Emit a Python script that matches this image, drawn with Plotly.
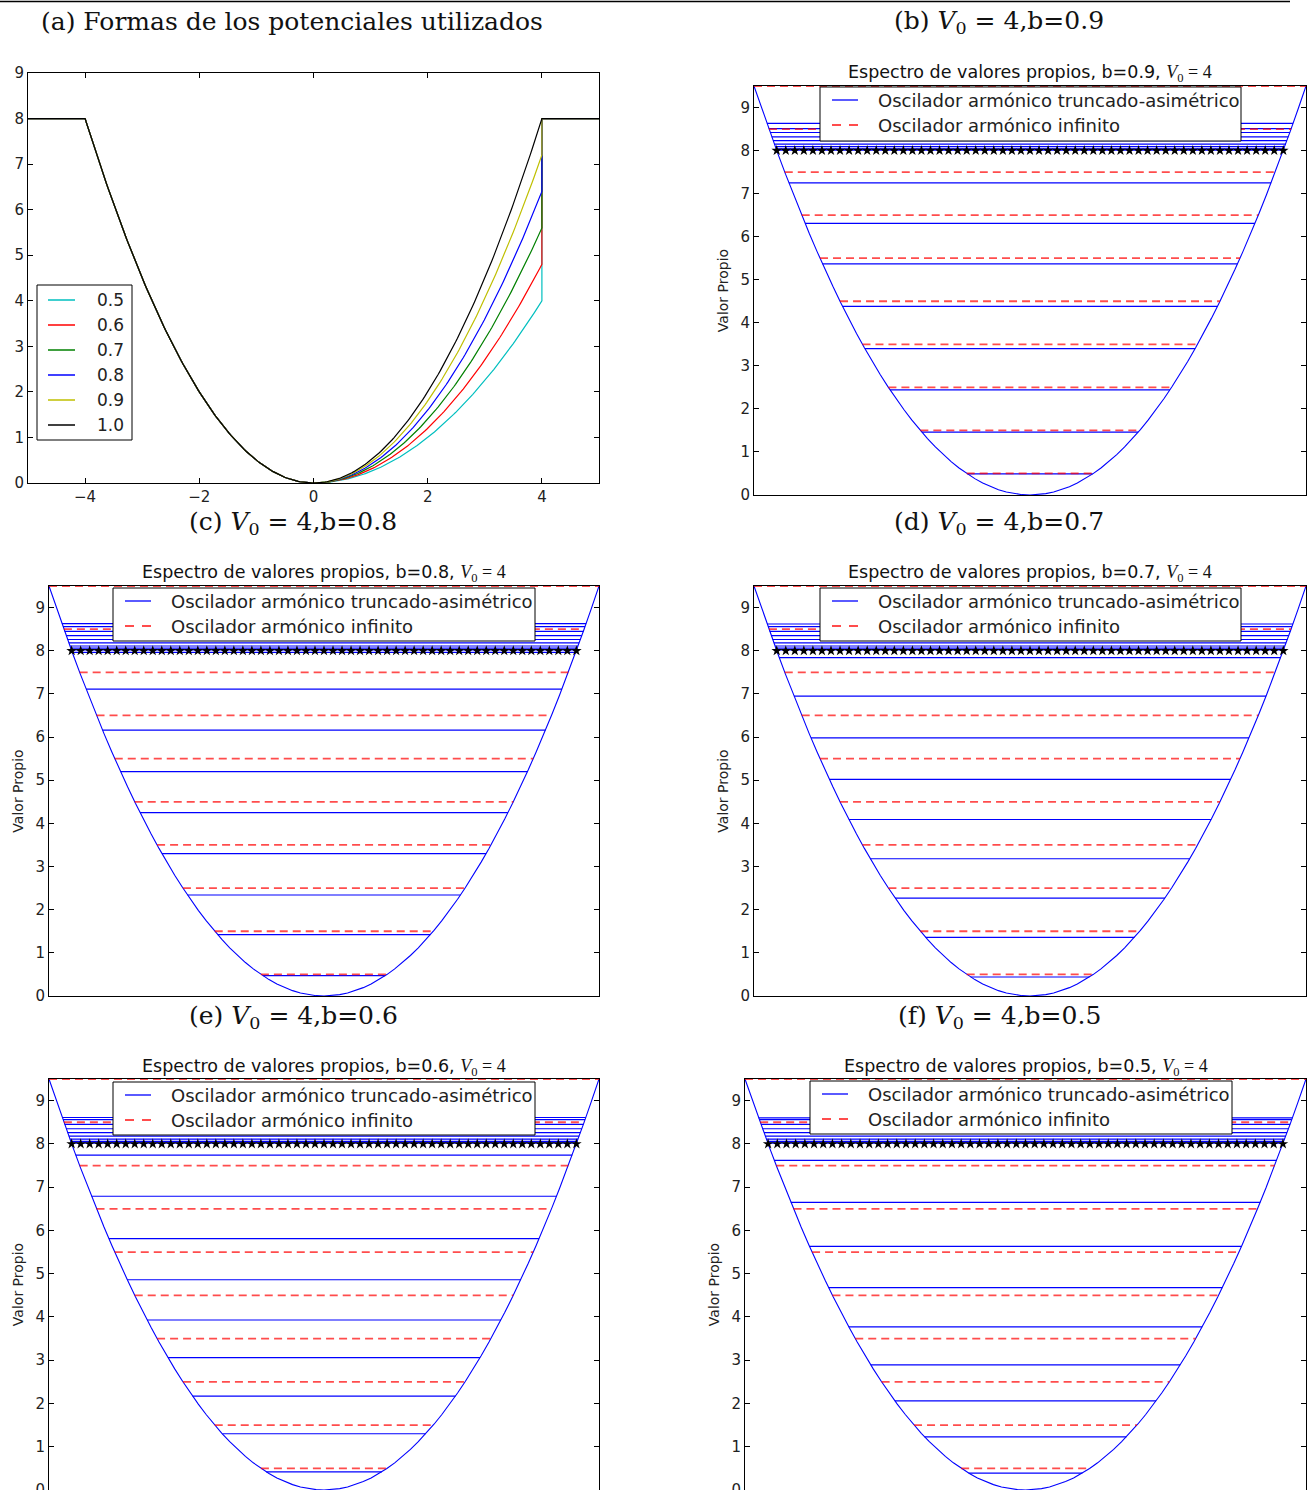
import numpy as np
import plotly.graph_objects as go

W, H = 1310, 1490

# ---------------- data ----------------
b_values = [0.5, 0.6, 0.7, 0.8, 0.9, 1.0]
b_labels = ["0.5", "0.6", "0.7", "0.8", "0.9", "1.0"]
b_colors = ["#00bfbf", "#ff0000", "#008000", "#0000ff", "#bfbf00", "#000000"]
V_top = 8.0          # height of the flat walls
x_wall = 4.0         # position of the walls

# infinite harmonic oscillator levels (n + 1/2)
infinite_levels = [0.5, 1.5, 2.5, 3.5, 4.5, 5.5, 6.5, 7.5, 8.5, 9.5]

# truncated-asymmetric oscillator eigenvalues
E_b09 = [0.49, 1.46, 2.44, 3.40, 4.38, 5.37, 6.31, 7.25,
         8.01, 8.04, 8.09, 8.15, 8.23, 8.32, 8.42, 8.51, 8.63]
E_b08 = [0.47, 1.42, 2.34, 3.30, 4.25, 5.20, 6.16, 7.11, 7.96,
         8.02, 8.06, 8.11, 8.18, 8.26, 8.35, 8.45, 8.56, 8.63]
E_b07 = [0.44, 1.36, 2.27, 3.18, 4.09, 5.02, 5.98, 6.95, 7.84,
         8.02, 8.06, 8.11, 8.18, 8.26, 8.35, 8.45, 8.56, 8.62]
E_b06 = [0.42, 1.30, 2.17, 3.06, 3.93, 4.86, 5.81, 6.79, 7.74,
         8.02, 8.06, 8.11, 8.18, 8.26, 8.35, 8.45, 8.56, 8.61]
E_b05 = [0.39, 1.23, 2.06, 2.89, 3.77, 4.68, 5.63, 6.65, 7.62,
         8.02, 8.06, 8.11, 8.18, 8.26, 8.35, 8.45, 8.56, 8.60]

spectra = [
    ("b", "0.9", E_b09),
    ("c", "0.8", E_b08),
    ("d", "0.7", E_b07),
    ("e", "0.6", E_b06),
    ("f", "0.5", E_b05),
]

legend_names = ["Oscilador armónico truncado-asimétrico", "Oscilador armónico infinito"]
y_ticks = [0, 1, 2, 3, 4, 5, 6, 7, 8, 9]
a_xticks = [-4, -2, 0, 2, 4]

# ---------------- layout geometry (pixels) ----------------
# (x0, x1, y0_top, y1_bottom)
boxes = {
    "a": (28, 599, 73, 483),
    "b": (754, 1306, 86, 495),
    "c": (49, 599, 586, 996),
    "d": (754, 1306, 586, 996),
    "e": (49, 599, 1079, 1490),
    "f": (745, 1306, 1079, 1490),
}
legend_box = {
    "b": (820, 87, 1241, 141), "c": (113, 588, 535, 641),
    "d": (820, 588, 1241, 641), "e": (113, 1082, 535, 1135),
    "f": (810, 1081, 1232, 1134),
}
legend_a_box = (37, 285, 132, 440)
caption_pos = {
    "a": (292, 22), "b": (999, 22), "c": (293, 523),
    "d": (999, 523), "e": (293, 1017), "f": (999, 1017),
}

SANS = "DejaVu Sans"
SERIF = "DejaVu Serif"

fig = go.Figure()
layout = {}
annotations = []
shapes = []


def px(x):
    return x / W


def py(y):
    return 1 - y / H


def dom(box):
    x0, x1, y0, y1 = box
    return [px(x0), px(x1)], [max(0.0, py(y1)), py(y0)]


def legend_line(x0, x1, y, color, width, dash="solid"):
    return dict(type="line", xref="paper", yref="paper", layer="above",
                x0=px(x0), x1=px(x1), y0=py(y), y1=py(y),
                line=dict(color=color, width=width, dash=dash))


def legend_rect(x0, y0, x1, y1):
    return dict(type="rect", xref="paper", yref="paper", layer="above",
                x0=px(x0), x1=px(x1), y0=py(y1), y1=py(y0),
                fillcolor="white", line=dict(color="black", width=1))


def legend_text(x, y, txt, size):
    return dict(x=px(x), y=py(y), xref="paper", yref="paper", xanchor="left",
                yanchor="middle", showarrow=False, text=txt,
                font=dict(family=SANS, size=size, color="#222"))


axis_common = dict(showline=True, linecolor="black", linewidth=1,
                   showgrid=False, zeroline=False, mirror="allticks",
                   ticks="inside", ticklen=5, tickcolor="black",
                   ticklabeloverflow="allow",
                   tickfont=dict(family=SANS, size=15, color="#222"))

# ---------------- panel (a) ----------------
dx, dy = dom(boxes["a"])
layout["xaxis"] = dict(axis_common, domain=dx, range=[-5, 5], tickvals=a_xticks,
                       anchor="y")
layout["yaxis"] = dict(axis_common, domain=dy, range=[0, 9], tickvals=y_ticks,
                       anchor="x")

for b, lab, col in zip(b_values, b_labels, b_colors):
    xl = np.linspace(-x_wall, 0, 120)
    xr = np.linspace(0, x_wall, 120)
    xs = np.concatenate([[-5.0], xl, xr, [x_wall, 5.0]])
    ys = np.concatenate([[V_top], 0.5 * xl ** 2, 0.5 * b * xr ** 2, [V_top, V_top]])
    fig.add_trace(go.Scatter(x=xs, y=ys, mode="lines", name=lab,
                             line=dict(color=col, width=1.2), showlegend=False,
                             xaxis="x", yaxis="y"))

# legend of panel (a)
ax0, ay0, ax1, ay1 = legend_a_box
shapes.append(legend_rect(ax0, ay0, ax1, ay1))
for j, (lab, col) in enumerate(zip(b_labels, b_colors)):
    yrow = ay0 + 15 + 25 * j
    shapes.append(legend_line(ax0 + 11, ax0 + 38, yrow, col, 1.5))
    annotations.append(legend_text(ax0 + 58, yrow, lab, 17))

# ---------------- spectrum panels ----------------
x_edge = float(np.sqrt(2 * 9.5))
for i, (key, bstr, levels) in enumerate(spectra):
    n = i + 2
    xa, ya = f"x{n}", f"y{n}"
    dx, dy = dom(boxes[key])
    layout[f"xaxis{n}"] = dict(showline=True, linecolor="black", linewidth=1,
                              mirror=True, showgrid=False, zeroline=False,
                              ticks="", showticklabels=False,
                              domain=dx, range=[-x_edge, x_edge], anchor=ya)
    layout[f"yaxis{n}"] = dict(axis_common, domain=dy, range=[0, 9.5],
                              tickvals=y_ticks, anchor=xa,
                              title=dict(text="Valor Propio", standoff=8,
                                         font=dict(family=SANS, size=14, color="#222")))
    # potential parabola
    xp = np.linspace(-x_edge, x_edge, 71)
    fig.add_trace(go.Scatter(x=xp, y=0.5 * xp ** 2, mode="lines",
                             line=dict(color="blue", width=1.1),
                             showlegend=False, xaxis=xa, yaxis=ya, hoverinfo="skip"))
    # truncated-asymmetric levels
    bx, by = [], []
    for E in levels:
        w = np.sqrt(2 * E)
        bx += [-w, w, None]
        by += [E, E, None]
    fig.add_trace(go.Scatter(x=bx, y=by, mode="lines", name=legend_names[0],
                             line=dict(color="blue", width=1.2), showlegend=False,
                             xaxis=xa, yaxis=ya))
    # infinite oscillator levels
    rx, ry = [], []
    for E in infinite_levels:
        w = np.sqrt(2 * E)
        rx += [-w, w, None]
        ry += [E, E, None]
    fig.add_trace(go.Scatter(x=rx, y=ry, mode="lines", name=legend_names[1],
                             line=dict(color="rgba(255,0,0,0.7)", width=1.8,
                                       dash="8px,5px"), showlegend=False,
                             xaxis=xa, yaxis=ya))
    # wall level markers
    xs = np.linspace(-x_wall, x_wall, 57)
    fig.add_trace(go.Scatter(x=xs, y=[V_top] * len(xs), mode="markers",
                             marker=dict(symbol="star", size=8, color="black"),
                             showlegend=False, xaxis=xa, yaxis=ya, hoverinfo="skip"))
    # legend box
    lx0, ly0, lx1, ly1 = legend_box[key]
    shapes.append(legend_rect(lx0, ly0, lx1, ly1))
    shapes.append(legend_line(lx0 + 12, lx0 + 38, ly0 + 13, "blue", 1.3))
    shapes.append(legend_line(lx0 + 12, lx0 + 38, ly0 + 38, "rgba(255,0,0,0.7)",
                              1.8, "9px,8px"))
    for j, nm in enumerate(legend_names):
        annotations.append(legend_text(lx0 + 56, ly0 + 13 + 25 * j, nm, 18))
    # panel title
    x0, x1, y0, y1 = boxes[key]
    annotations.append(dict(
        x=px((x0 + x1) / 2), y=py(y0 - 12), xref="paper", yref="paper",
        xanchor="center", yanchor="middle", showarrow=False,
        text=("Espectro de valores propios, b=" + bstr + ", "
              "<span style='font-family:Liberation Serif;font-size:18px'>"
              "<i>V</i><sub>0</sub> = 4</span>"),
        font=dict(family=SANS, size=17.5, color="#111")))

# ---------------- captions ----------------
captions = {
    "a": "(a) Formas de los potenciales utilizados",
    "b": "(b) <i>V</i><sub>0</sub> = 4,b=0.9",
    "c": "(c) <i>V</i><sub>0</sub> = 4,b=0.8",
    "d": "(d) <i>V</i><sub>0</sub> = 4,b=0.7",
    "e": "(e) <i>V</i><sub>0</sub> = 4,b=0.6",
    "f": "(f) <i>V</i><sub>0</sub> = 4,b=0.5",
}
for k, txt in captions.items():
    cx, cy = caption_pos[k]
    annotations.append(dict(x=px(cx), y=py(cy), xref="paper", yref="paper",
                            xanchor="center", yanchor="middle", showarrow=False,
                            text=txt, font=dict(family=SERIF, size=25, color="#111")))

shapes.append(dict(type="line", xref="paper", yref="paper",
                   x0=0, x1=px(1290), y0=py(1.5), y1=py(1.5),
                   line=dict(color="black", width=1.5)))

fig.update_layout(**layout)
fig.update_layout(
    width=W, height=H, showlegend=False,
    margin=dict(l=0, r=0, t=0, b=0, pad=0, autoexpand=False),
    paper_bgcolor="white", plot_bgcolor="white",
    annotations=annotations, shapes=shapes,
)

fig.write_html("out.html",
               post_script="document.body.style.margin='0px';",
               config={"displayModeBar": False})
